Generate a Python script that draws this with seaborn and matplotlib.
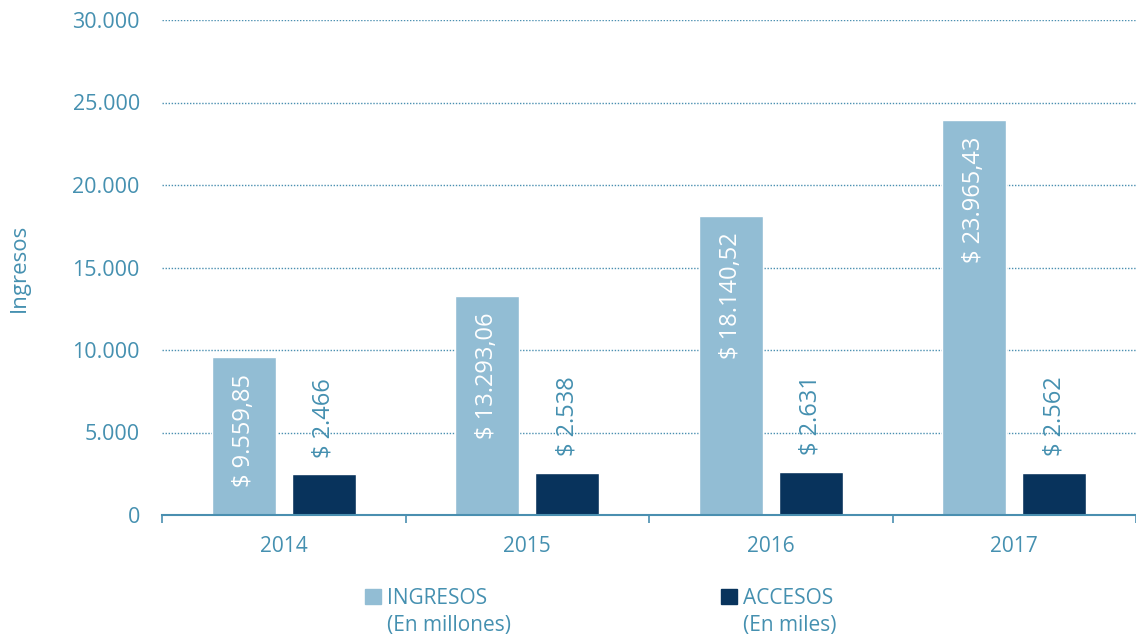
import matplotlib
matplotlib.use("Agg")
import matplotlib.pyplot as plt
import matplotlib.patches as mpatches
import numpy as np
import pandas as pd
import seaborn as sns
from matplotlib.ticker import FixedLocator, FuncFormatter

# data
years = ["2014", "2015", "2016", "2017"]
ingresos = [9559.85, 13293.06, 18140.52, 23965.43]   # millones
accesos = [2466, 2538, 2631, 2562]                   # miles
series = ["INGRESOS", "ACCESOS"]
series_sub = ["(En millones)", "(En miles)"]
y_ticks = [0, 5000, 10000, 15000, 20000, 25000, 30000]

TEXT = "#4590B0"
AXIS = "#4A8FB0"
colors = ["#92BDD4", "#08335C"]

df = pd.DataFrame({
    "year": years * 2,
    "serie": [series[0]] * len(years) + [series[1]] * len(years),
    "valor": ingresos + accesos,
})

sns.set_style("white")
plt.rcParams["font.family"] = ["Open Sans", "DejaVu Sans"]

fig = plt.figure(figsize=(11.36, 6.42), dpi=100)
ax = fig.add_axes([162 / 1136, 1 - 515 / 642, (1136 - 162) / 1136, 495 / 642])

sns.barplot(data=df, x="year", y="valor", hue="serie", palette=colors,
            width=0.656, gap=0.2, saturation=1, ax=ax, legend=False)

ax.set_ylim(0, 30000)
ax.set_xlim(-0.5, 3.5)
ax.yaxis.set_major_locator(FixedLocator(y_ticks))
ax.yaxis.set_major_formatter(FuncFormatter(lambda v, p: f"{int(v):,}".replace(",", ".")))
ax.tick_params(axis="y", length=0, pad=16, labelsize=15.5, labelcolor=TEXT)

# category borders as tick marks on the x axis
ax.set_xticks(np.arange(len(years)))
ax.set_xticks(np.arange(len(years) + 1) - 0.5, minor=True)
ax.tick_params(axis="x", which="major", length=0, pad=15, labelsize=15, labelcolor=TEXT)
ax.tick_params(axis="x", which="minor", length=6, width=1.2, color=AXIS, direction="out", bottom=True)

for s in ["left", "right", "top"]:
    ax.spines[s].set_visible(False)
ax.spines["bottom"].set_color(AXIS)
ax.spines["bottom"].set_linewidth(1.5)

for y in y_ticks[1:]:
    ax.axhline(y, color=AXIS, lw=1.0, ls=(0, (1, 1.2)), zorder=0)

ax.set_xlabel("")
ax.set_ylabel("Ingresos", fontsize=16, color=TEXT)
ax.yaxis.set_label_coords(-0.136, 0.5)


def fmt_money(v):
    if float(v).is_integer():
        s = f"{int(v):,}".replace(",", ".")
    else:
        s = f"{v:,.2f}".replace(",", "X").replace(".", ",").replace("X", ".")
    return "$ " + s


# value labels: white inside top of INGRESOS, teal above ACCESOS
for bar, v in zip(ax.containers[0], ingresos):
    ax.annotate(fmt_money(v), (bar.get_x() + bar.get_width() / 2, bar.get_height()),
                xytext=(0, -12), textcoords="offset points", rotation=90,
                ha="center", va="top", color="white", fontsize=17)
for bar, v in zip(ax.containers[1], accesos):
    ax.annotate(fmt_money(v), (bar.get_x() + bar.get_width() / 2, bar.get_height()),
                xytext=(0, 12), textcoords="offset points", rotation=90,
                ha="center", va="bottom", color=TEXT, fontsize=17)

# legend: one per series, second line placed under the first
legend_x = [365 / 1136, 721 / 1136]
fig.canvas.draw()
inv = fig.transFigure.inverted()
for c, name, sub, lx in zip(colors, series, series_sub, legend_x):
    leg = fig.legend([mpatches.Patch(color=c)], [name], loc="center left",
                     bbox_to_anchor=(lx, 1 - 598 / 642), frameon=False, fontsize=15,
                     handlelength=0.75, handleheight=0.75, handletextpad=0.3,
                     borderpad=0, borderaxespad=0)
    txt = leg.get_texts()[0]
    txt.set_color(TEXT)
    fig.canvas.draw()
    bb = txt.get_window_extent()
    x0, y0 = inv.transform((bb.x0, bb.y0))
    fig.text(x0, y0 - 0.01, sub, ha="left", va="top", fontsize=15, color=TEXT)

fig.savefig("out.png", dpi=100)
